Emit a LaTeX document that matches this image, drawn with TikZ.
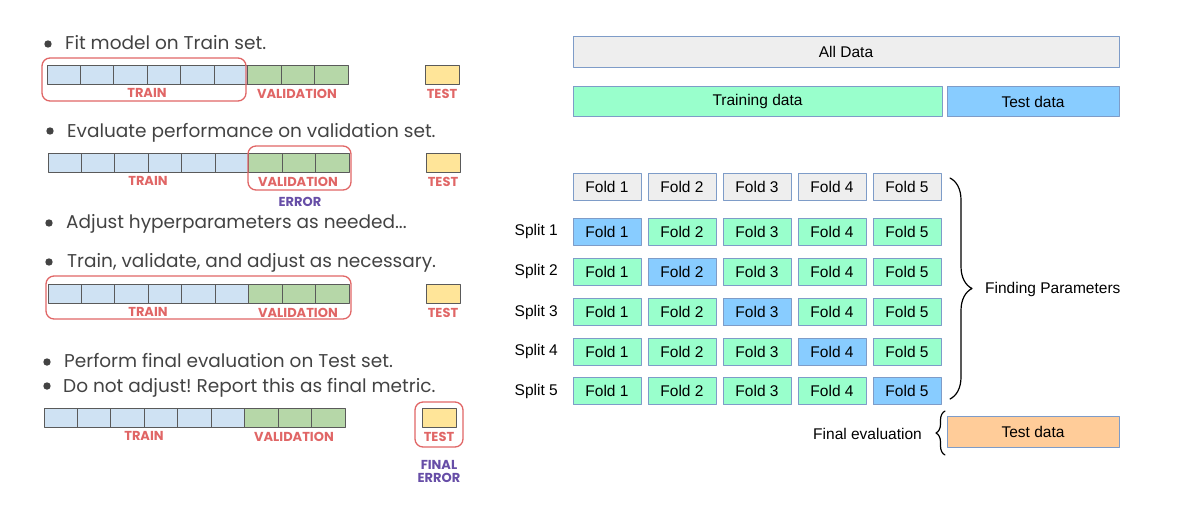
\documentclass[tikz,border=0pt]{standalone}
\usepackage{fontspec}
\setmainfont{Liberation Sans}
\newfontfamily\leftfont{Poppins}
\usetikzlibrary{decorations.pathreplacing}
\definecolor{foldgray}{HTML}{EEEEEE}
\definecolor{foldgreen}{HTML}{99FFCC}
\definecolor{foldblue}{HTML}{88CCFF}
\definecolor{testorange}{HTML}{FFCC99}
\definecolor{edgeblue}{HTML}{7E9CC8}
\definecolor{cellblue}{HTML}{CFE2F3}
\definecolor{cellgreen}{HTML}{B6D7A8}
\definecolor{celltest}{HTML}{FFE599}
\definecolor{celledge}{HTML}{5A5A5A}
\definecolor{markred}{HTML}{E06666}
\definecolor{markpurple}{HTML}{674EA7}
\definecolor{bullettext}{HTML}{434343}
\frenchspacing
\tikzset{
  box/.style={draw=edgeblue,line width=0.9pt,inner sep=0pt,minimum height=27pt,
    font=\fontsize{15.5}{18}\selectfont},
  fold/.style={box,minimum width=68pt},
  wide/.style={box,minimum height=30.5pt},
  bullet/.style={anchor=base west,inner sep=0pt,text=bullettext,
    font=\leftfont\fontsize{18.5}{22}\selectfont},
  tag/.style={inner sep=0pt,font=\leftfont\bfseries\fontsize{13}{14}\selectfont},
  ring/.style={draw=markred,line width=1.3pt,rounded corners=8pt},
  brace/.style={decorate,decoration={brace,amplitude=#1},line width=1.2pt}
}
\begin{document}
\begin{tikzpicture}[line cap=round,line join=round,x=1pt,y=-1pt]
\useasboundingbox (0,0) rectangle (1180,504);
\foreach \i/\bx/\by in {1/48/44, 2/50/131, 3/49/223, 4/49/262, 5/47/362, 6/47/386}
  \fill [bullettext] (\bx,\by) circle (3.7);
\node [bullet] (step1) at (65,49) {Fit model on Train set.};
\node [bullet] (step2) at (67,137) {Evaluate performance on validation set.};
\node [bullet] (step3) at (66,228) {Adjust hyperparameters as needed...};
\node [bullet] (step4) at (67,267) {Train, validate, and adjust as necessary.};
\node [bullet] (step5) at (64,367) {Perform final evaluation on Test set.};
\node [bullet] (step6) at (63,392) {Do not adjust! Report this as final metric.};
\foreach \n/\bx/\by/\tx in {1/47/65/425, 2/48/153/426, 3/48/284/426, 4/44/408/422} {
  \foreach \c in {0,...,8} {
    \pgfmathsetmacro{\cx}{\bx+\c*33.44}
    \ifnum\c<6
      \draw [fill=cellblue,draw=celledge,line width=0.9pt] (\cx,\by) rectangle ++(33.44,19);
    \else
      \draw [fill=cellgreen,draw=celledge,line width=0.9pt] (\cx,\by) rectangle ++(33.44,19);
    \fi
  }
  \draw [fill=celltest,draw=celledge,line width=0.9pt] (\tx,\by) rectangle ++(34,19);
  \node [tag,text=markred] (train\n) at (\bx+100,\by+28) {TRAIN};
  \node [tag,text=markred] (valid\n) at (\bx+250,\by+28.5) {VALIDATION};
  \node [tag,text=markred] (test\n) at (\tx+17,\by+28.5) {TEST};
}
\draw [ring] (42,58) rectangle (246,101);
\draw [ring] (248,146) rectangle (351,190);
\draw [ring] (46,276) rectangle (351,319);
\draw [ring] (415,402) rectangle (463,447);
\node [tag,text=markpurple] (error2) at (300,202) {ERROR};
\node [tag,text=markpurple,align=center] (final4) at (439,471) {FINAL\\[-1pt]ERROR};
\node [wide,fill=foldgray,minimum width=546pt] (all) at (846,52) {All Data};
\node [wide,fill=foldgreen,minimum width=369pt] (traindata) at (757.5,101.5) {Training data};
\node [wide,fill=foldblue,minimum width=172pt] (testdata) at (1033,101.5) {Test data};
\foreach \k in {1,...,5}
  \node [fold,fill=foldgray] (f0\k) at (532+75*\k,186.5) {Fold \k};
\foreach \s/\y in {1/231.5, 2/271.5, 3/312, 4/351.5, 5/391} {
  \node [anchor=east,inner sep=0pt,font=\fontsize{15.5}{18}\selectfont] (split\s) at (558,\y) {Split \s};
  \foreach \k in {1,...,5} {
    \ifnum\k=\s
      \node [fold,fill=foldblue] (f\s\k) at (532+75*\k,\y) {Fold \k};
    \else
      \node [fold,fill=foldgreen] (f\s\k) at (532+75*\k,\y) {Fold \k};
    \fi
  }
}
\coordinate (bracetop) at (950,178);
\coordinate (bracebot) at (950,399);
\draw [brace=22pt] (bracetop) -- (bracebot);
\node [anchor=west,inner sep=0pt,font=\fontsize{15.5}{18}\selectfont] (finding) at (985,289) {Finding Parameters};
\node [wide,fill=testorange,minimum width=172pt] (finaltest) at (1033,432) {Test data};
\coordinate (smalltop) at (945,411);
\coordinate (smallbot) at (945,455);
\draw [brace=9pt] (smallbot) -- (smalltop);
\node [anchor=east,inner sep=0pt,font=\fontsize{15.5}{18}\selectfont] (finaleval) at (922,434) {Final evaluation};
\end{tikzpicture}
\end{document}
